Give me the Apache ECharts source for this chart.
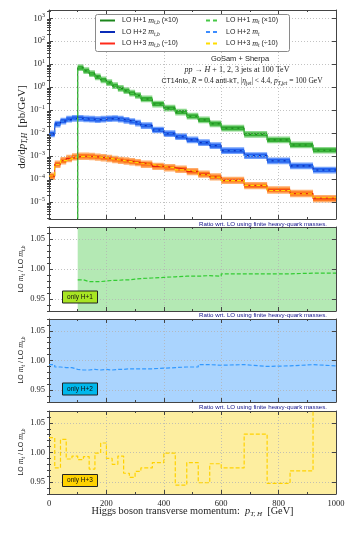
<!DOCTYPE html>
<html><head><meta charset="utf-8">
<script src="https://cdn.jsdelivr.net/npm/echarts@6/dist/echarts.min.js"></script>
<style>html,body{margin:0;padding:0;background:#fff}#c{width:349px;height:543px}</style>
</head><body><div id="c"></div><script>
// ---------------- DATA ----------------
const binEdges = [0,20,40,60,80,100,120,140,160,180,200,220,240,260,280,300,320,360,400,440,480,520,560,600,680,760,840,920,1000];
// LO H+1 m_t,b (x10) [pb/GeV]; zero below 100 GeV
const h1Mtb = [0,0,0,0,0,7.08,5.25,3.89,2.82,2.09,1.58,1.17,0.891,0.708,0.550,0.437,0.309,0.186,0.123,0.0832,0.0550,0.0380,0.0257,0.0166,0.00891,0.00513,0.00309,0.00182];
// LO H+2 m_t,b
const h2Mtb = [0.00933,0.0251,0.0339,0.0407,0.0447,0.0447,0.0417,0.0407,0.0389,0.0407,0.0427,0.0437,0.0407,0.0363,0.0324,0.0275,0.0214,0.0138,0.00955,0.00708,0.00513,0.00389,0.00288,0.00174,0.00107,0.000631,0.000380,0.000251];
// LO H+3 m_t,b (/10)
const h3Mtb = [1.35e-4,4.47e-4,6.31e-4,7.94e-4,9.33e-4,1.0e-3,1.0e-3,9.77e-4,9.12e-4,8.51e-4,7.94e-4,7.24e-4,6.61e-4,6.17e-4,5.75e-4,5.25e-4,4.47e-4,3.63e-4,3.16e-4,2.69e-4,2.14e-4,1.66e-4,1.26e-4,8.91e-5,5.25e-5,3.39e-5,2.40e-5,1.41e-5];
// Ratios LO m_t / LO m_t,b
const ratioH1 = [null,null,null,null,null,0.982,0.979,0.979,0.979,0.980,0.981,0.981,0.982,0.982,0.983,0.984,0.985,0.986,0.987,0.988,0.988,0.989,0.988,0.992,0.992,0.992,0.993,0.993];
const ratioH2 = [0.993,0.989,0.988,0.988,0.985,0.984,0.984,0.985,0.984,0.985,0.984,0.985,0.985,0.986,0.986,0.986,0.986,0.987,0.988,0.989,0.989,0.993,0.992,0.993,0.990,0.991,0.993,0.991];
const ratioH3 = [1.025,0.974,1.022,0.989,0.994,0.988,0.993,0.972,0.999,1.016,0.990,0.980,0.994,0.965,0.958,0.968,0.974,0.983,0.999,0.945,0.983,0.949,0.981,0.974,1.031,0.948,0.969,1.100];
// scale-uncertainty band factors (inner, outer)
const bandInnerFactor = [1.22, 1.22, 1.25];
const bandOuterFactor = [1.40, 1.40, 1.45];
// ticks
const xTickValues = [0,200,400,600,800,1000];
const yLogTickValues = [1e-5,1e-4,1e-3,1e-2,1e-1,1,10,100,1000];
const ratioTickValues = [0.95,1.00,1.05];
const ratioMinorValues = [0.93,0.94,0.96,0.97,0.98,0.99,1.01,1.02,1.03,1.04,1.06,1.07];
const logMinorValues = [];
for (let d = -6; d <= 3; d++) for (let k = 2; k <= 9; k++) logMinorValues.push(k * Math.pow(10, d));

// ---------------- STYLE ----------------
const SERIF = "'Liberation Serif','DejaVu Serif',serif";
const SANS = "'Liberation Sans','DejaVu Sans',sans-serif";
const AX = '#444';
const GRIDC = '#b4b4b4';
const LOG_MIN = 1.86e-6, LOG_MAX = 2290;
const grids = [
  {left:49, top:10, width:287, height:209},
  {left:49, top:227, width:287, height:84},
  {left:49, top:319, width:287, height:83},
  {left:49, top:411, width:287, height:83}
];
const COL = {
  g: {solid:'#1c861c', dash:'#46c846', inner:'#35ad35', outer:'#8cd88c', ratio:'#33cc33', fill:'#b4e9b4', box:'#a8e523'},
  b: {solid:'#0a2cb8', dash:'#3c8cff', inner:'#2462ee', outer:'#74a2fb', ratio:'#3399ff', fill:'#aad4fe', box:'#00b8ec'},
  o: {solid:'#e8200c', dash:'#ffdd00', inner:'#ff7b22', outer:'#ffae6b', ratio:'#ffd200', fill:'#fdeea0', box:'#ffd200'}
};

const pos = v => (v > 0 ? v : 1e-12);
function stepData(vals) {
  const pts = [];
  vals.forEach((v, i) => { if (v !== null) pts.push([binEdges[i], v]); });
  let last = -1; vals.forEach((v, i) => { if (v !== null) last = i; });
  pts.push([binEdges[last + 1], vals[last]]);
  return pts;
}
function mtOf(mtb, ratio) { return mtb.map((v, i) => ratio[i] === null ? v : v * ratio[i]); }

// ---------------- AXES ----------------
const xAxis = [], yAxis = [];
grids.forEach((g, gi) => {
  ['bottom','top'].forEach((p, k) => {
    xAxis.push({
      type:'value', gridIndex:gi, position:p, min:0, max:1000, interval:200, z:2,
      axisLine:{show:true, onZero:false, lineStyle:{color:AX, width:1}},
      axisTick:{show:true, inside:true, length:4, lineStyle:{color:AX}},
      minorTick:{show:true, splitNumber:2, length:2, lineStyle:{color:AX}},
      axisLabel:{show: gi === 3 && k === 0, fontFamily:SERIF, fontSize:8.5, color:'#222', margin:5, formatter: v => String(v)},
      splitLine:{show: k === 0, lineStyle:{color:GRIDC, type:[1,2], width:0.8}}
    });
  });
  const isLog = gi === 0;
  const majors = isLog ? yLogTickValues : ratioTickValues;
  const minors = isLog ? logMinorValues : ratioMinorValues;
  const base = isLog ? {type:'log', logBase:10, min:LOG_MIN, max:LOG_MAX} : {type:'value', min:0.93, max:1.07};
  ['left','right'].forEach((p, k) => {
    yAxis.push(Object.assign({}, base, {
      gridIndex:gi, position:p, z:2,
      axisLine:{show:true, onZero:false, lineStyle:{color:AX, width:1}},
      axisTick:{show:true, inside:true, length:4, customValues:majors, lineStyle:{color:AX}},
      axisLabel:{show: k === 0, customValues:majors, margin:4, fontFamily:SERIF, fontSize:8.5, color:'#222',
        formatter: isLog ? (v => { const e = Math.round(Math.log10(v)); return '{b|10}{e|' + (e < 0 ? '\u2212' + (-e) : e) + '}'; })
                         : (v => v.toFixed(2)),
        rich: {b:{fontFamily:SERIF, fontSize:8.5, lineHeight:12, color:'#222'},
               e:{fontFamily:SERIF, fontSize:6, lineHeight:7, verticalAlign:'top', color:'#222'}}},
      splitLine:{show: k === 0, lineStyle:{color:GRIDC, type:[1,2], width:0.8}}
    }));
  });
  ['left','right'].forEach((p) => {
    yAxis.push(Object.assign({}, base, {
      gridIndex:gi, position:p, z:2,
      axisLine:{show:false},
      axisTick:{show:true, inside:true, length:2, customValues:minors, lineStyle:{color:AX}},
      axisLabel:{show:false}, splitLine:{show:false}
    }));
  });
});

// ---------------- SERIES ----------------
function bandSeries(vals, factor, color) {
  return {
    type:'custom', xAxisIndex:0, yAxisIndex:0, z:1, silent:true, data:[[0]],
    renderItem(params, api) {
      const up = [], dn = [];
      vals.forEach((v, i) => {
        if (!(v > 0)) return;
        up.push(api.coord([binEdges[i], v * factor]), api.coord([binEdges[i + 1], v * factor]));
        dn.push(api.coord([binEdges[i], v / factor]), api.coord([binEdges[i + 1], v / factor]));
      });
      return {type:'polygon', shape:{points: up.concat(dn.reverse())}, style:{fill:color}};
    }
  };
}
function lineSeries(vals, xi, yi, color, dashed, width) {
  return {
    type:'line', xAxisIndex:xi, yAxisIndex:yi, step:'end', showSymbol:false, silent:true, z:3, clip:true,
    data: stepData(vals), lineStyle:{color:color, width:width, type: dashed ? [4,2] : 'solid'}
  };
}
function fillSeries(ratio, xi, yi, color) {
  let first = ratio.findIndex(v => v !== null);
  return {
    type:'custom', xAxisIndex:xi, yAxisIndex:yi, z:1, silent:true, data:[[binEdges[first], binEdges[binEdges.length - 1]]],
    renderItem(params, api) {
      const a = api.coord([api.value(0), 1]), b = api.coord([api.value(1), 1]);
      const cs = params.coordSys;
      return {type:'rect', shape:{x:a[0], y:cs.y, width:b[0] - a[0], height:cs.height}, style:{fill:color}};
    }
  };
}

const h1Mt = mtOf(h1Mtb, ratioH1), h2Mt = mtOf(h2Mtb, ratioH2), h3Mt = mtOf(h3Mtb, ratioH3);
const series = [
  bandSeries(h3Mtb, bandOuterFactor[2], COL.o.outer), bandSeries(h3Mtb, bandInnerFactor[2], COL.o.inner),
  bandSeries(h2Mtb, bandOuterFactor[1], COL.b.outer), bandSeries(h2Mtb, bandInnerFactor[1], COL.b.inner),
  bandSeries(h1Mtb, bandOuterFactor[0], COL.g.outer), bandSeries(h1Mtb, bandInnerFactor[0], COL.g.inner),
  lineSeries(h3Mtb.map(pos), 0, 0, COL.o.solid, false, 1.1),
  lineSeries(h3Mt.map(pos), 0, 0, COL.o.dash, true, 1.1),
  lineSeries(h2Mtb.map(pos), 0, 0, COL.b.solid, false, 1.1),
  lineSeries(h2Mt.map(pos), 0, 0, COL.b.dash, true, 1.1),
  lineSeries(h1Mtb.map(pos), 0, 0, COL.g.solid, false, 1.1),
  lineSeries(h1Mt.map(pos), 0, 0, COL.g.dash, true, 1.1),
  fillSeries(ratioH1, 2, 4, COL.g.fill), lineSeries(ratioH1, 2, 4, COL.g.ratio, true, 1.2),
  fillSeries(ratioH2, 4, 8, COL.b.fill), lineSeries(ratioH2, 4, 8, COL.b.ratio, true, 1.2),
  fillSeries(ratioH3, 6, 12, COL.o.fill), lineSeries(ratioH3, 6, 12, COL.o.ratio, true, 1.2)
];

// ---------------- TEXT / DECORATION ----------------
const RICH = {
  i:{fontFamily:SERIF, fontStyle:'italic', fontSize:8, lineHeight:11},
  sub:{fontFamily:SERIF, fontStyle:'italic', fontSize:5.5, lineHeight:7, verticalAlign:'bottom'},
  subr:{fontFamily:SERIF, fontSize:5.5, lineHeight:7, verticalAlign:'bottom'},
  r:{fontFamily:SERIF, fontSize:8, lineHeight:11}
};
function txt(x, y, text, o) {
  o = o || {};
  return {type:'text', x:x, y:y, rotation:o.rot || 0, z:10, silent:true,
    style:Object.assign({text:text, fontFamily:o.ff || SANS, fontSize:o.fs || 7, fill:o.color || '#222',
      align:o.align || 'left', verticalAlign:'middle', lineHeight:o.lh || 11, rich:o.rich || RICH}, o.extra || {})};
}
const graphic = [];
// legend
graphic.push({type:'rect', z:9, silent:true, shape:{x:95.5, y:14.5, width:194, height:37, r:2}, style:{fill:'#fff', stroke:'#8a8a8a', lineWidth:1}});
const legRows = [20.5, 32, 43.5];
const legCols = [['g','LO H+1 {i|m}{sub|t,b} (×10)','LO H+1 {i|m}{sub|t} (×10)'],['b','LO H+2 {i|m}{sub|t,b}','LO H+2 {i|m}{sub|t}'],['o','LO H+3 {i|m}{sub|t,b} (÷10)','LO H+3 {i|m}{sub|t} (÷10)']];
legCols.forEach((r, k) => {
  const c = COL[r[0]];
  graphic.push({type:'line', z:10, silent:true, shape:{x1:100, y1:legRows[k], x2:115, y2:legRows[k]}, style:{stroke:c.solid === '#e8200c' ? '#ff2a1a' : c.solid, lineWidth:2}});
  graphic.push({type:'line', z:10, silent:true, shape:{x1:206, y1:legRows[k], x2:219, y2:legRows[k]}, style:{stroke:c.dash, lineWidth:2, lineDash:[4,3]}});
  graphic.push(txt(122, legRows[k], r[1], {fs:7}));
  graphic.push(txt(226, legRows[k], r[2], {fs:7}));
});
// header texts
graphic.push(txt(240, 59, 'GoSam + Sherpa', {fs:7.5, align:'center'}));
graphic.push(txt(237, 70, '{i|pp} → {i|H} + 1, 2, 3 jets at 100 TeV', {ff:SERIF, fs:8, align:'center'}));
graphic.push(txt(242, 81, '{s|CT14nlo,} {i|R} = 0.4 {s|anti-kT}, |{i|η}{subr|jet}| < 4.4, {i|p}{sub|T,jet} = 100 GeV',
  {ff:SERIF, fs:7.5, align:'center', rich:Object.assign({}, RICH, {s:{fontFamily:SANS, fontSize:7, lineHeight:11}, i:{fontFamily:SERIF, fontStyle:'italic', fontSize:7.5, lineHeight:11}})}));
// axis titles
graphic.push(txt(22, 127, 'd{i|σ}/d{i|p}{sub|T,H}  [pb/GeV]', {ff:SERIF, fs:11, lh:14, align:'center', rot:Math.PI/2,
  rich:Object.assign({}, RICH, {i:{fontFamily:SERIF, fontStyle:'italic', fontSize:11, lineHeight:14}, sub:{fontFamily:SERIF, fontStyle:'italic', fontSize:7.5, lineHeight:8, verticalAlign:'bottom'}})}));
[[269,'LO {i|m}{sub|t} / LO {i|m}{sub|t,b}'],[360,'LO {i|m}{sub|t} / LO {i|m}{sub|t,b}'],[452,'LO {i|m}{sub|t} / LO {i|m}{sub|t,b}']].forEach(a => {
  graphic.push(txt(21, a[0], a[1], {fs:7, align:'center', rot:Math.PI/2}));
});
graphic.push(txt(192.5, 511, 'Higgs boson transverse momentum:  {i|p}{sub|T, H}  [GeV]', {ff:SERIF, fs:10.3, lh:13, align:'center',
  rich:Object.assign({}, RICH, {i:{fontFamily:SERIF, fontStyle:'italic', fontSize:10.3, lineHeight:13}, sub:{fontFamily:SERIF, fontStyle:'italic', fontSize:7, lineHeight:8, verticalAlign:'bottom'}})}));
// ratio titles
[224, 315.5, 407.3].forEach(y => graphic.push(txt(327, y, 'Ratio wrt. LO using finite heavy-quark masses.', {fs:6.2, align:'right', color:'#14148c'})));
// label boxes
[[291, 'only H+1', COL.g.box], [383, 'only H+2', COL.b.box], [474.5, 'only H+3', COL.o.box]].forEach(b => {
  graphic.push({type:'rect', z:10, silent:true, shape:{x:62.5, y:b[0], width:35, height:12}, style:{fill:b[2], stroke:'#222', lineWidth:1}});
  graphic.push(txt(80, b[0] + 6, b[1], {fs:6.5, align:'center', color:'#111'}));
});

const chart = echarts.init(document.getElementById('c'), null, {renderer:'canvas'});
chart.setOption({animation:false, backgroundColor:'#fff', grid:grids, xAxis:xAxis, yAxis:yAxis, series:series, graphic:graphic});
</script></body></html>
